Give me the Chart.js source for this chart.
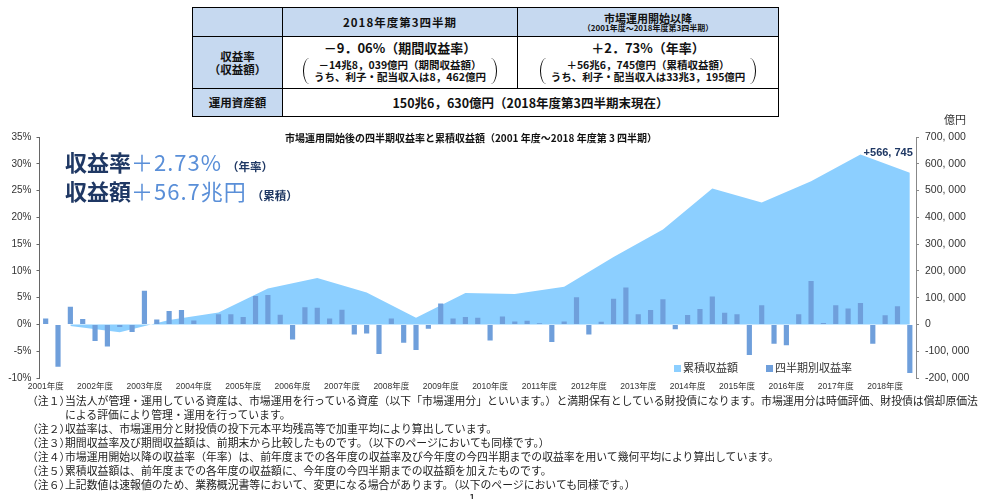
<!DOCTYPE html>
<html lang="ja">
<head>
<meta charset="utf-8">
<script src="https://cdn.jsdelivr.net/npm/chart.js@4.4.0/dist/chart.umd.min.js"></script>
<style>
  html, body { margin: 0; padding: 0; background: #fff; }
  body { width: 988px; height: 499px; position: relative; overflow: hidden;
         font-family: "Noto Sans CJK JP", "Noto Sans", sans-serif; color: #111; }
  #summary { position: absolute; left: 192px; top: 7px; width: 586px; border-collapse: collapse;
             table-layout: fixed; }
  #summary td { border: 1.5px solid #000; text-align: center; vertical-align: middle;
                font-weight: bold; padding: 0; line-height: 1.1; }
  #summary .blue { background: #c6d9f0; }
  .bracket { display: inline-block; border-left: 1.5px solid #000; border-right: 1.5px solid #000;
             border-radius: 7px / 14px; padding: 1px 10px; font-size: 10.5px; line-height: 12px; margin-top: 2px; }
  #chartBox { position: absolute; left: 0; top: 110px; width: 988px; height: 290px; }
  #chartTitle { position: absolute; left: 0; width: 942px; top: 130px; text-align: center;
                font-size: 10px; font-weight: bold; white-space: nowrap; }
  .headline { position: absolute; left: 65px; white-space: nowrap; font-size: 22px; line-height: 24px; }
  .headline .k { color: #1f3864; font-weight: bold; }
  .headline .v { color: #5a8fd8; letter-spacing: 1px; }
  .headline .s { color: #1f3864; font-weight: bold; font-size: 11.5px; margin-left: 5px; }
  #unit { position: absolute; left: 944px; top: 111px; font-size: 11px; color: #333; }
  #legend { position: absolute; left: 674px; top: 359px; font-size: 11px; color: #333; white-space: nowrap; }
  #legend span.box { display: inline-block; width: 7px; height: 7px; margin-right: 2px; vertical-align: 0; }
  #notes { position: absolute; left: 27px; top: 393px; font-size: 10.85px; line-height: 14px; color: #222; white-space: nowrap; }
  #notes .lab { display: inline-block; width: 38px; }
  #notes .cont { padding-left: 38px; }
  #page { position: absolute; left: 462px; top: 489px; font-size: 12px; color: #222; }
</style>
</head>
<body>

<table id="summary">
  <colgroup><col style="width:90px"><col style="width:235px"><col style="width:261px"></colgroup>
  <tr style="height:29px">
    <td class="blue"></td>
    <td class="blue" style="font-size:11.5px;letter-spacing:1px">2018年度第3四半期</td>
    <td class="blue"><div style="font-size:11px">市場運用開始以降</div><div style="font-size:8px">（2001年度～2018年度第3四半期）</div></td>
  </tr>
  <tr style="height:52px">
    <td class="blue" style="font-size:11.5px;line-height:13px">収益率<br>（収益額）</td>
    <td><div style="font-size:13px">－9．06%（期間収益率）</div>
        <div class="bracket">－14兆8，039億円（期間収益額）<br>うち、利子・配当収入は8，462億円</div></td>
    <td><div style="font-size:13px">＋2．73%（年率）</div>
        <div class="bracket">＋56兆6，745億円（累積収益額）<br>うち、利子・配当収入は33兆3，195億円</div></td>
  </tr>
  <tr style="height:28px">
    <td class="blue" style="font-size:11.5px">運用資産額</td>
    <td colspan="2" style="font-size:12.5px">150兆6，630億円（2018年度第3四半期末現在）</td>
  </tr>
</table>

<div id="chartBox"><canvas id="myChart" width="988" height="290"></canvas></div>
<div id="chartTitle">市場運用開始後の四半期収益率と累積収益額（2001 年度～2018 年度第 3 四半期）</div>
<div class="headline" style="top:149px"><span class="k">収益率</span><span class="v">＋2.73%</span><span class="s">（年率）</span></div>
<div class="headline" style="top:178px"><span class="k">収益額</span><span class="v">＋56.7兆円</span><span class="s">（累積）</span></div>
<div id="unit">億円</div>
<div id="legend"><span class="box" style="background:#8ccfff"></span>累積収益額<span style="display:inline-block;width:28px"></span><span class="box" style="background:#6f9fdb"></span>四半期別収益率</div>

<div id="notes">
  <div><span class="lab">（注１）</span>当法人が管理・運用している資産は、市場運用を行っている資産（以下「市場運用分」といいます。）と満期保有としている財投債になります。市場運用分は時価評価、財投債は償却原価法</div>
  <div class="cont">による評価により管理・運用を行っています。</div>
  <div><span class="lab">（注２）</span>収益率は、市場運用分と財投債の投下元本平均残高等で加重平均により算出しています。</div>
  <div><span class="lab">（注３）</span>期間収益率及び期間収益額は、前期末から比較したものです。（以下のページにおいても同様です。）</div>
  <div><span class="lab">（注４）</span>市場運用開始以降の収益率（年率）は、前年度までの各年度の収益率及び今年度の今四半期までの収益率を用いて幾何平均により算出しています。</div>
  <div><span class="lab">（注５）</span>累積収益額は、前年度までの各年度の収益額に、今年度の今四半期までの収益額を加えたものです。</div>
  <div><span class="lab">（注６）</span>上記数値は速報値のため、業務概況書等において、変更になる場合があります。（以下のページにおいても同様です。）</div>
</div>
<div id="page">- 1 -</div>

<script>
// fiscal years and quarters (last year ends at 3Q)
const fiscalYears = [2001, 2002, 2003, 2004, 2005, 2006, 2007, 2008, 2009,
                     2010, 2011, 2012, 2013, 2014, 2015, 2016, 2017, 2018];
const quarterNames = ["1Q", "2Q", "3Q", "4Q"];
const lastQuarterCount = 3;

// 四半期別収益率 (%)
const quarterlyReturn = [
    1.1, -7.9, 3.3, 1.0,
    -3.1, -4.1, -0.5, -1.4,
    6.3, 0.9, 2.5, 2.7,
    0.75, -0.1, 1.9, 1.9,
    1.4, 5.3, 5.5, 1.8,
    -2.8, 3.2, 3.1, 1.1,
    2.75, -1.9, -1.7, -5.5,
    1.1, -3.4, -4.75, -0.8,
    3.9, 1.1, 1.4, 1.25,
    -3.0, 1.5, 0.56, 0.7,
    0.2, -3.3, 0.56, 5.1,
    -1.9, 0.5, 4.8, 6.9,
    1.9, 2.7, 4.7, -0.9,
    1.75, 2.9, 5.2, 2.2,
    1.9, -5.7, 3.6, -3.6,
    -3.9, 1.9, 8.1, 0.25,
    3.6, 3.0, 4.0, -3.6,
    1.7, 3.4, -9.06
];

// 累積収益額 (億円), one point per fiscal year
const cumulativeAmount = [
    -6000, -29000, 17000, 45000, 134000, 173000, 119000, 25000, 117000,
    114000, 141000, 252000, 355000, 508000, 455000, 535000, 635000, 566745
];
const cumulativeQuarter = "3Q"; // each yearly point sits on this quarter

const leftTicks = [-10, -5, 0, 5, 10, 15, 20, 25, 30, 35];
const rightTicks = [-200000, -100000, 0, 100000, 200000, 300000, 400000, 500000, 600000, 700000];

let quarterLabels = [];
fiscalYears.forEach((y, i) => {
    let n = i == fiscalYears.length - 1 ? lastQuarterCount : 4;
    for (let q = 0; q < n; q++) {
        quarterLabels.push(y + " " + quarterNames[q]);
    }
});

let cumulativeData = quarterLabels.map(() => null);
fiscalYears.forEach((y, i) => {
    let idx = quarterLabels.indexOf(y + " " + cumulativeQuarter);
    cumulativeData[idx] = cumulativeAmount[i];
});

function withComma(v) {
    return v.toLocaleString("en-US").replace(/,/g, ", ");
}

const endLabel = {
    id: "endLabel",
    afterDatasetsDraw(chart) {
        let meta = chart.getDatasetMeta(1);
        let idx = cumulativeData.length - 1;
        let pt = meta.data[idx];
        let ctx = chart.ctx;
        ctx.save();
        ctx.font = "bold 11px 'Liberation Sans', 'Noto Sans CJK JP'";
        ctx.fillStyle = "#1f3864";
        ctx.textAlign = "right";
        ctx.textBaseline = "middle";
        ctx.fillText("+" + withComma(cumulativeData[idx]), pt.x + 3, pt.y - 20);
        ctx.restore();
    },
};

const ctx = document.getElementById("myChart");
new Chart(ctx, {
    type: "bar",
    data: {
        labels: quarterLabels,
        datasets: [
            {
                type: "bar",
                label: "四半期別収益率",
                data: quarterlyReturn,
                backgroundColor: "#6f9fdb",
                barPercentage: 0.42,
                categoryPercentage: 1,
                yAxisID: "y",
                order: 0,
            },
            {
                type: "line",
                label: "累積収益額",
                data: cumulativeData,
                spanGaps: true,
                fill: "origin",
                backgroundColor: "#8ccfff",
                borderColor: "#8ccfff",
                borderWidth: 0,
                pointRadius: 0,
                tension: 0,
                yAxisID: "y1",
                order: 1,
            },
        ],
    },
    options: {
        responsive: false,
        animation: false,
        layout: { padding: { top: 27, left: 0, right: 0, bottom: 0 } },
        plugins: { legend: { display: false }, tooltip: { enabled: false } },
        scales: {
            x: {
                offset: true,
                grid: { display: false, drawTicks: false },
                border: { display: false },
                ticks: {
                    autoSkip: false,
                    maxRotation: 0,
                    padding: 4,
                    color: "#333",
                    font: { size: 8.5, family: "'Liberation Sans', 'Noto Sans CJK JP'" },
                    callback: function (value, index) {
                        let lab = quarterLabels[index];
                        return lab.endsWith("1Q") ? lab.split(" ")[0] + "年度" : "";
                    },
                },
                afterFit: (scale) => { scale.height = 22; },
            },
            y: {
                position: "left",
                min: -10,
                max: 35,
                grid: { display: true, drawOnChartArea: false, drawTicks: true, tickLength: 3, color: "#666" },
                border: { display: true, color: "#666", width: 1 },
                afterBuildTicks: (scale) => { scale.ticks = leftTicks.map((v) => ({ value: v })); },
                ticks: {
                    padding: 5,
                    color: "#333",
                    font: { size: 10, family: "'Liberation Sans'" },
                    callback: (v) => v + "%",
                },
                afterFit: (scale) => { scale.width = 39.5; },
            },
            y1: {
                position: "right",
                min: -200000,
                max: 700000,
                grid: { display: true, drawOnChartArea: false, drawTicks: true, tickLength: 3, color: "#888" },
                border: { display: true, color: "#888", width: 1 },
                afterBuildTicks: (scale) => { scale.ticks = rightTicks.map((v) => ({ value: v })); },
                ticks: {
                    padding: 6,
                    color: "#333",
                    font: { size: 10.5, family: "'Liberation Sans'" },
                    callback: (v) => withComma(v),
                },
                afterFit: (scale) => { scale.width = 72; },
            },
        },
    },
    plugins: [endLabel],
});
</script>
</body>
</html>
